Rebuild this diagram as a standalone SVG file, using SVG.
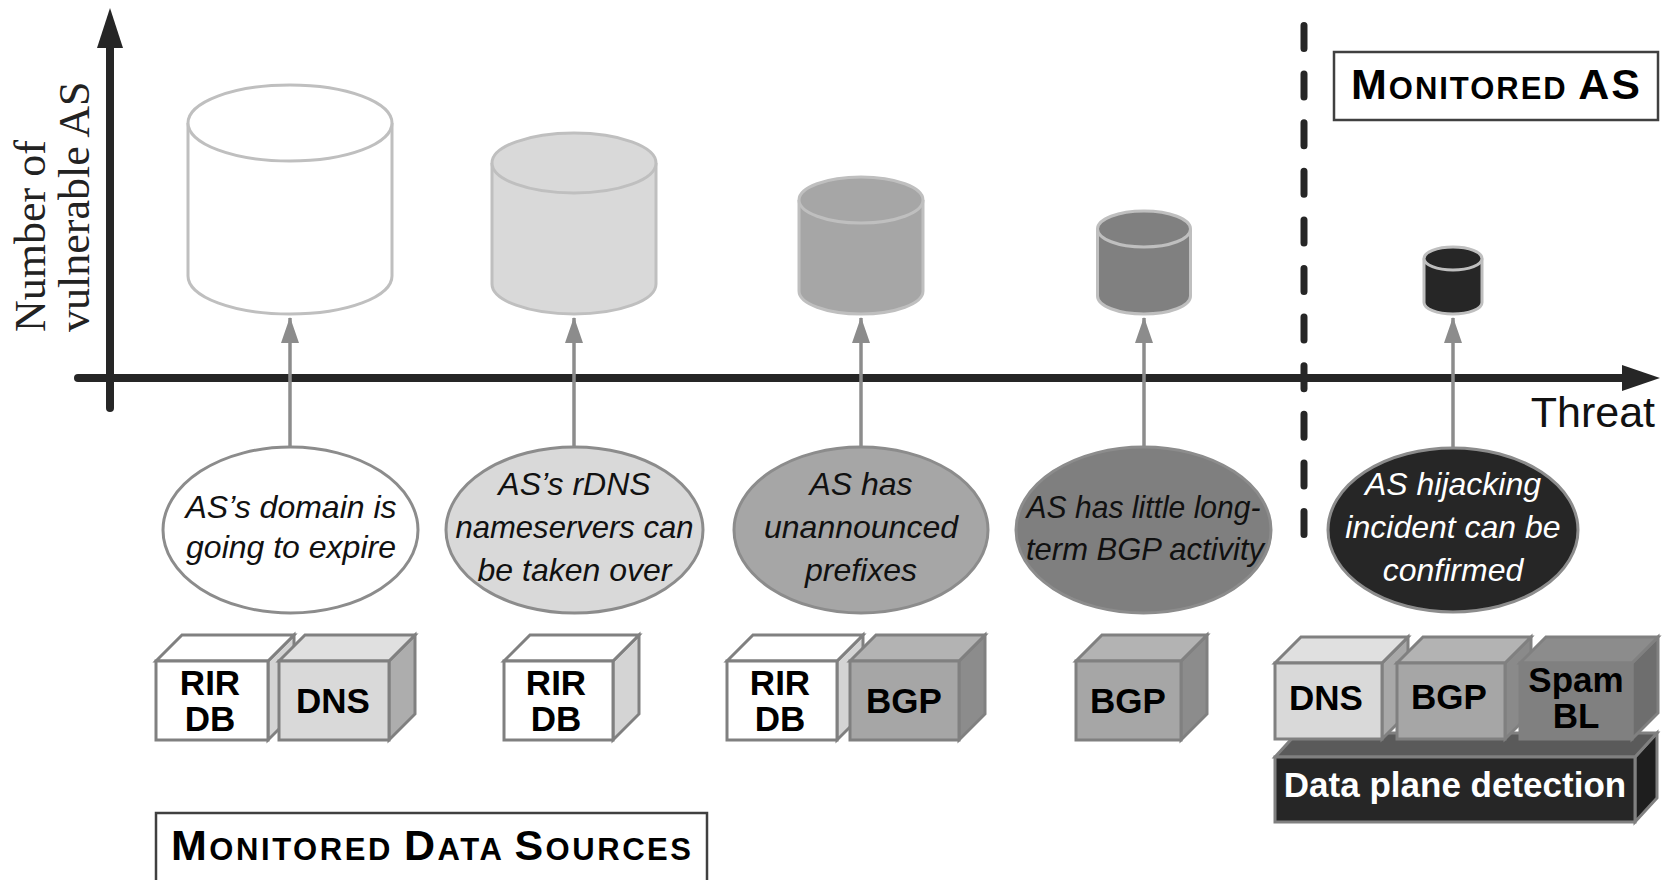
<svg xmlns="http://www.w3.org/2000/svg" width="1662" height="880" viewBox="0 0 1662 880">
<defs>
<style>
.axis{stroke:#262626;stroke-width:8;fill:none;stroke-linecap:round}
.axhead{fill:#262626}
.cyl{stroke:#bfbfbf;stroke-width:3}
.conn{stroke:#8c8c8c;stroke-width:3.5;fill:none}
.ell{stroke:#8c8c8c;stroke-width:3}
.et{font-family:"Liberation Sans",Arial,sans-serif;font-style:italic;font-size:32px;text-anchor:middle;fill:#111}
.box{stroke:#808080;stroke-width:3;stroke-linejoin:miter}
.bt{font-family:"Liberation Sans",Arial,sans-serif;font-weight:bold;font-size:35px;text-anchor:middle;fill:#000}
.sc{font-family:"Liberation Sans",Arial,sans-serif;font-weight:bold;fill:#000}
.ylab{font-family:"Liberation Serif","Times New Roman",serif;font-size:44px;fill:#222}
</style>
<marker id="ah" markerUnits="userSpaceOnUse" markerWidth="26" markerHeight="18" viewBox="0 0 26 18" refX="25" refY="9" orient="auto">
<path d="M0,0 L26,9 L0,18 Z" fill="#8c8c8c"/>
</marker>
</defs>
<rect width="1662" height="880" fill="#fff"/>

<g id="axes">
<line class="axis" x1="110" y1="44" x2="110" y2="408" stroke-width="7"/>
<polygon class="axhead" points="97,48 110,8 123,48"/>
<line class="axis" x1="78" y1="378" x2="1626" y2="378"/>
<polygon class="axhead" points="1622,365 1660,378 1622,391"/>
<line x1="1304" y1="25.5" x2="1304" y2="535" stroke="#262626" stroke-width="7" stroke-linecap="round" stroke-dasharray="23 25.6"/>
<text class="ylab" transform="translate(45,332) rotate(-90)">Number of</text>
<text class="ylab" transform="translate(89,332) rotate(-90)">vulnerable AS</text>
<text x="1655" y="427" font-family="'Liberation Sans',Arial,sans-serif" font-size="43" text-anchor="end" fill="#111">Threat</text>
</g>

<g id="cyl1">
<path class="cyl" fill="#ffffff" d="M188,123 L188,276 A102,38 0 0 0 392,276 L392,123"/>
<ellipse class="cyl" fill="#ffffff" cx="290" cy="123" rx="102" ry="38"/>
</g>
<g id="cyl2">
<path class="cyl" fill="#d9d9d9" d="M492,163 L492,284 A82,30 0 0 0 656,284 L656,163"/>
<ellipse class="cyl" fill="#d9d9d9" cx="574" cy="163" rx="82" ry="30"/>
</g>
<g id="cyl3">
<path class="cyl" fill="#a6a6a6" d="M799,200 L799,291 A62,23 0 0 0 923,291 L923,200"/>
<ellipse class="cyl" fill="#a6a6a6" cx="861" cy="200" rx="62" ry="23"/>
</g>
<g id="cyl4">
<path class="cyl" fill="#808080" d="M1097.5,229 L1097.5,296 A46.5,18 0 0 0 1190.5,296 L1190.5,229"/>
<ellipse class="cyl" fill="#808080" cx="1144" cy="229" rx="46.5" ry="18"/>
</g>
<g id="cyl5">
<path class="cyl" fill="#262626" d="M1424,258.5 L1424,302.5 A29,11.5 0 0 0 1482,302.5 L1482,258.5"/>
<ellipse class="cyl" fill="#262626" cx="1453" cy="258.5" rx="29" ry="11.5"/>
</g>

<g id="connectors">
<line class="conn" x1="290" y1="447" x2="290" y2="318" marker-end="url(#ah)"/>
<line class="conn" x1="574" y1="447" x2="574" y2="318" marker-end="url(#ah)"/>
<line class="conn" x1="861" y1="447" x2="861" y2="318" marker-end="url(#ah)"/>
<line class="conn" x1="1144" y1="447" x2="1144" y2="318" marker-end="url(#ah)"/>
<line class="conn" x1="1453" y1="447" x2="1453" y2="318" marker-end="url(#ah)"/>
</g>

<g id="threat1">
<ellipse class="ell" fill="#ffffff" cx="290.5" cy="530" rx="127.5" ry="83"/>
<text class="et" x="291" y="518">AS’s domain is</text>
<text class="et" x="291" y="558">going to expire</text>
</g>
<g id="threat2">
<ellipse class="ell" fill="#d9d9d9" cx="574.5" cy="530" rx="128.5" ry="83"/>
<text class="et" x="574.5" y="495">AS’s rDNS</text>
<text class="et" x="574.5" y="538" textLength="238" lengthAdjust="spacingAndGlyphs">nameservers can</text>
<text class="et" x="574.5" y="581">be taken over</text>
</g>
<g id="threat3">
<ellipse class="ell" fill="#a6a6a6" cx="861" cy="530" rx="127" ry="83"/>
<text class="et" x="861" y="495">AS has</text>
<text class="et" x="861" y="538">unannounced</text>
<text class="et" x="861" y="581">prefixes</text>
</g>
<g id="threat4">
<ellipse class="ell" fill="#7f7f7f" cx="1143.5" cy="530" rx="127.5" ry="83"/>
<text class="et" x="1143.5" y="518" textLength="234" lengthAdjust="spacingAndGlyphs">AS has little long-</text>
<text class="et" x="1145" y="560" textLength="238" lengthAdjust="spacingAndGlyphs">term BGP activity</text>
</g>
<g id="threat5">
<ellipse class="ell" fill="#262626" cx="1453" cy="530" rx="125" ry="82"/>
<text class="et" x="1453" y="495" style="fill:#fff">AS hijacking</text>
<text class="et" x="1453" y="538" style="fill:#fff">incident can be</text>
<text class="et" x="1453" y="581" style="fill:#fff">confirmed</text>
</g>

<g id="src1-rirdb">
<polygon class="box" fill="#d4d4d4" points="268,661 294,635 294,714 268,740"/>
<polygon class="box" fill="#ffffff" points="156,661 182,635 294,635 268,661"/>
<rect class="box" fill="#ffffff" x="156" y="661" width="112" height="79"/>
<text class="bt" x="210" y="695">RIR</text>
<text class="bt" x="210" y="731">DB</text>
</g>
<g id="src1-dns">
<polygon class="box" fill="#adadad" points="389,661 415,635 415,714 389,740"/>
<polygon class="box" fill="#e0e0e0" points="279,661 305,635 415,635 389,661"/>
<rect class="box" fill="#d9d9d9" x="279" y="661" width="110" height="79"/>
<text class="bt" x="333" y="713">DNS</text>
</g>
<g id="src2-rirdb">
<polygon class="box" fill="#d4d4d4" points="613,661 639,635 639,714 613,740"/>
<polygon class="box" fill="#ffffff" points="504,661 530,635 639,635 613,661"/>
<rect class="box" fill="#ffffff" x="504" y="661" width="109" height="79"/>
<text class="bt" x="556" y="695">RIR</text>
<text class="bt" x="556" y="731">DB</text>
</g>
<g id="src3-rirdb">
<polygon class="box" fill="#d4d4d4" points="837,661 863,635 863,714 837,740"/>
<polygon class="box" fill="#ffffff" points="727,661 753,635 863,635 837,661"/>
<rect class="box" fill="#ffffff" x="727" y="661" width="110" height="79"/>
<text class="bt" x="780" y="695">RIR</text>
<text class="bt" x="780" y="731">DB</text>
</g>
<g id="src3-bgp">
<polygon class="box" fill="#8c8c8c" points="959,661 985,635 985,714 959,740"/>
<polygon class="box" fill="#b3b3b3" points="850,661 876,635 985,635 959,661"/>
<rect class="box" fill="#a6a6a6" x="850" y="661" width="109" height="79"/>
<text class="bt" x="904" y="713">BGP</text>
</g>
<g id="src4-bgp">
<polygon class="box" fill="#8c8c8c" points="1181,661 1207,635 1207,714 1181,740"/>
<polygon class="box" fill="#b3b3b3" points="1076,661 1102,635 1207,635 1181,661"/>
<rect class="box" fill="#a6a6a6" x="1076" y="661" width="105" height="79"/>
<text class="bt" x="1128" y="713">BGP</text>
</g>

<g id="src5-platform">
<polygon class="box" fill="#1e1e1e" points="1635,757 1657,733 1657,798 1635,822"/>
<polygon class="box" fill="#5a5a5a" points="1275,757 1297,733 1657,733 1635,757"/>
<rect class="box" fill="#262626" x="1275" y="757" width="360" height="65"/>
<text class="bt" x="1455" y="797" style="fill:#fff">Data plane detection</text>
</g>
<g id="src5-dns">
<polygon class="box" fill="#a8a8a8" points="1382,663 1408,637 1408,713 1382,739"/>
<polygon class="box" fill="#e0e0e0" points="1275,663 1301,637 1408,637 1382,663"/>
<rect class="box" fill="#d9d9d9" x="1275" y="663" width="107" height="76"/>
<text class="bt" x="1326" y="710">DNS</text>
</g>
<g id="src5-bgp">
<polygon class="box" fill="#8a8a8a" points="1505,663 1531,637 1531,713 1505,739"/>
<polygon class="box" fill="#b3b3b3" points="1397,663 1423,637 1531,637 1505,663"/>
<rect class="box" fill="#a6a6a6" x="1397" y="663" width="108" height="76"/>
<text class="bt" x="1449" y="709">BGP</text>
</g>
<g id="src5-spam">
<polygon class="box" fill="#6e6e6e" points="1632,663 1658,637 1658,713 1632,739"/>
<polygon class="box" fill="#8c8c8c" points="1520,663 1546,637 1658,637 1632,663"/>
<rect class="box" fill="#808080" x="1520" y="663" width="112" height="76"/>
<text class="bt" x="1576" y="692">Spam</text>
<text class="bt" x="1576" y="728">BL</text>
</g>

<g id="label-monitored-as">
<rect x="1334" y="52" width="324" height="68" fill="#fff" stroke="#404040" stroke-width="2.5"/>
<text class="sc" x="1351" y="99" textLength="289" lengthAdjust="spacing"><tspan font-size="43">M</tspan><tspan font-size="31">ONITORED</tspan><tspan font-size="31"> </tspan><tspan font-size="43">AS</tspan></text>
</g>
<g id="label-monitored-sources">
<rect x="156" y="813" width="551" height="85" fill="#fff" stroke="#404040" stroke-width="2.5"/>
<text class="sc" x="171" y="860" textLength="520" lengthAdjust="spacing"><tspan font-size="43">M</tspan><tspan font-size="31">ONITORED </tspan><tspan font-size="43">D</tspan><tspan font-size="31">ATA </tspan><tspan font-size="43">S</tspan><tspan font-size="31">OURCES</tspan></text>
</g>
</svg>
